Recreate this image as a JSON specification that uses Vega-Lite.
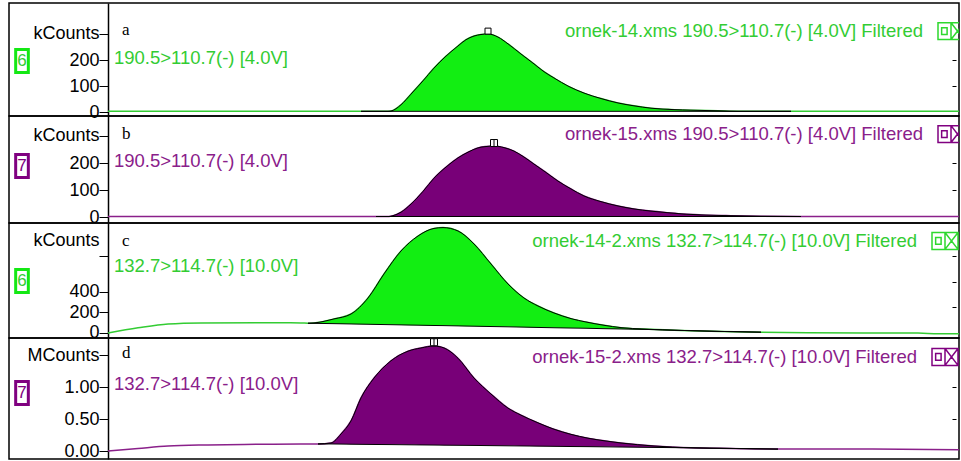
{
  "$schema": "https://vega.github.io/schema/vega-lite/v6.json",
  "autosize": {"type": "pad"},
  "padding": {"left": 8, "top": 2, "right": 0, "bottom": 0},
  "background": "white",
  "spacing": 0,
  "bounds": "flush",
  "config": {
    "view": {"stroke": "black", "strokeWidth": 1.5},
    "concat": {"spacing": 0},
    "axis": {
      "grid": false,
      "title": null,
      "domainColor": "black",
      "domainWidth": 1.5,
      "tickColor": "black",
      "tickWidth": 1,
      "labelFont": "Liberation Sans",
      "labelFontSize": 18,
      "labelColor": "black",
      "labelFlush": false,
      "labelOverlap": false,
      "labelBound": false
    }
  },
  "datasets": {
    "trace": [
      {"p": "a", "t": 0, "v": 3, "b": 3, "k": 0},
      {"p": "a", "t": 1.0, "v": 3, "b": 3, "k": 0},
      {"p": "a", "t": 2.0, "v": 3, "b": 3, "k": 0},
      {"p": "a", "t": 2.53, "v": 3, "b": 3, "k": 1},
      {"p": "a", "t": 2.80, "v": 3, "b": 3, "k": 1},
      {"p": "a", "t": 2.83, "v": 4, "b": 3, "k": 1},
      {"p": "a", "t": 2.93, "v": 28, "b": 3, "k": 1},
      {"p": "a", "t": 3.03, "v": 69, "b": 3, "k": 1},
      {"p": "a", "t": 3.15, "v": 120, "b": 3, "k": 1},
      {"p": "a", "t": 3.26, "v": 169, "b": 3, "k": 1},
      {"p": "a", "t": 3.38, "v": 215, "b": 3, "k": 1},
      {"p": "a", "t": 3.50, "v": 254, "b": 3, "k": 1},
      {"p": "a", "t": 3.58, "v": 278, "b": 3, "k": 1},
      {"p": "a", "t": 3.66, "v": 292, "b": 3, "k": 1},
      {"p": "a", "t": 3.73, "v": 298, "b": 3, "k": 1},
      {"p": "a", "t": 3.80, "v": 300, "b": 3, "k": 1},
      {"p": "a", "t": 3.90, "v": 288, "b": 3, "k": 1},
      {"p": "a", "t": 4.00, "v": 262, "b": 3, "k": 1},
      {"p": "a", "t": 4.13, "v": 223, "b": 3, "k": 1},
      {"p": "a", "t": 4.26, "v": 185, "b": 3, "k": 1},
      {"p": "a", "t": 4.36, "v": 155, "b": 3, "k": 1},
      {"p": "a", "t": 4.46, "v": 131, "b": 3, "k": 1},
      {"p": "a", "t": 4.61, "v": 98, "b": 3, "k": 1},
      {"p": "a", "t": 4.76, "v": 73, "b": 3, "k": 1},
      {"p": "a", "t": 4.93, "v": 52, "b": 3, "k": 1},
      {"p": "a", "t": 5.10, "v": 35, "b": 3, "k": 1},
      {"p": "a", "t": 5.26, "v": 24, "b": 3, "k": 1},
      {"p": "a", "t": 5.43, "v": 15, "b": 3, "k": 1},
      {"p": "a", "t": 5.63, "v": 10, "b": 3, "k": 1},
      {"p": "a", "t": 5.86, "v": 7, "b": 3, "k": 1},
      {"p": "a", "t": 6.10, "v": 5, "b": 3, "k": 1},
      {"p": "a", "t": 6.30, "v": 3, "b": 3, "k": 1},
      {"p": "a", "t": 6.83, "v": 3, "b": 3, "k": 1},
      {"p": "a", "t": 7.50, "v": 3, "b": 3, "k": 0},
      {"p": "a", "t": 8.51, "v": 3, "b": 3, "k": 0},

      {"p": "b", "t": 0, "v": 2, "b": 2, "k": 0},
      {"p": "b", "t": 1.0, "v": 2, "b": 2, "k": 0},
      {"p": "b", "t": 2.0, "v": 2, "b": 2, "k": 0},
      {"p": "b", "t": 2.68, "v": 2, "b": 2, "k": 1},
      {"p": "b", "t": 2.81, "v": 2, "b": 2, "k": 1},
      {"p": "b", "t": 2.85, "v": 5, "b": 2, "k": 1},
      {"p": "b", "t": 2.93, "v": 18, "b": 2, "k": 1},
      {"p": "b", "t": 3.03, "v": 48, "b": 2, "k": 1},
      {"p": "b", "t": 3.15, "v": 95, "b": 2, "k": 1},
      {"p": "b", "t": 3.26, "v": 144, "b": 2, "k": 1},
      {"p": "b", "t": 3.38, "v": 185, "b": 2, "k": 1},
      {"p": "b", "t": 3.50, "v": 219, "b": 2, "k": 1},
      {"p": "b", "t": 3.60, "v": 240, "b": 2, "k": 1},
      {"p": "b", "t": 3.70, "v": 256, "b": 2, "k": 1},
      {"p": "b", "t": 3.78, "v": 261, "b": 2, "k": 1},
      {"p": "b", "t": 3.86, "v": 263, "b": 2, "k": 1},
      {"p": "b", "t": 3.96, "v": 257, "b": 2, "k": 1},
      {"p": "b", "t": 4.06, "v": 244, "b": 2, "k": 1},
      {"p": "b", "t": 4.16, "v": 222, "b": 2, "k": 1},
      {"p": "b", "t": 4.26, "v": 196, "b": 2, "k": 1},
      {"p": "b", "t": 4.38, "v": 165, "b": 2, "k": 1},
      {"p": "b", "t": 4.50, "v": 133, "b": 2, "k": 1},
      {"p": "b", "t": 4.63, "v": 104, "b": 2, "k": 1},
      {"p": "b", "t": 4.76, "v": 78, "b": 2, "k": 1},
      {"p": "b", "t": 4.93, "v": 57, "b": 2, "k": 1},
      {"p": "b", "t": 5.10, "v": 41, "b": 2, "k": 1},
      {"p": "b", "t": 5.26, "v": 30, "b": 2, "k": 1},
      {"p": "b", "t": 5.43, "v": 22, "b": 2, "k": 1},
      {"p": "b", "t": 5.60, "v": 16, "b": 2, "k": 1},
      {"p": "b", "t": 5.76, "v": 11, "b": 2, "k": 1},
      {"p": "b", "t": 5.93, "v": 8, "b": 2, "k": 1},
      {"p": "b", "t": 6.23, "v": 5, "b": 2, "k": 1},
      {"p": "b", "t": 6.53, "v": 3, "b": 2, "k": 1},
      {"p": "b", "t": 6.93, "v": 2, "b": 2, "k": 1},
      {"p": "b", "t": 7.50, "v": 2, "b": 2, "k": 0},
      {"p": "b", "t": 8.51, "v": 2, "b": 2, "k": 0},

      {"p": "c", "t": 0, "v": 0, "b": 0, "k": 0},
      {"p": "c", "t": 0.30, "v": 50, "b": 50, "k": 0},
      {"p": "c", "t": 0.60, "v": 88, "b": 88, "k": 0},
      {"p": "c", "t": 0.93, "v": 98, "b": 98, "k": 0},
      {"p": "c", "t": 1.50, "v": 100, "b": 100, "k": 0},
      {"p": "c", "t": 1.93, "v": 98, "b": 98, "k": 0},
      {"p": "c", "t": 2.00, "v": 95, "b": 95, "k": 1},
      {"p": "c", "t": 2.06, "v": 98, "b": 94, "k": 1},
      {"p": "c", "t": 2.26, "v": 137, "b": 91, "k": 1},
      {"p": "c", "t": 2.43, "v": 185, "b": 88, "k": 1},
      {"p": "c", "t": 2.60, "v": 341, "b": 85, "k": 1},
      {"p": "c", "t": 2.76, "v": 576, "b": 82, "k": 1},
      {"p": "c", "t": 2.93, "v": 800, "b": 79, "k": 1},
      {"p": "c", "t": 3.10, "v": 946, "b": 76, "k": 1},
      {"p": "c", "t": 3.26, "v": 1020, "b": 73, "k": 1},
      {"p": "c", "t": 3.35, "v": 1028, "b": 72, "k": 1},
      {"p": "c", "t": 3.50, "v": 995, "b": 69, "k": 1},
      {"p": "c", "t": 3.66, "v": 868, "b": 66, "k": 1},
      {"p": "c", "t": 3.83, "v": 673, "b": 63, "k": 1},
      {"p": "c", "t": 4.00, "v": 478, "b": 60, "k": 1},
      {"p": "c", "t": 4.16, "v": 341, "b": 57, "k": 1},
      {"p": "c", "t": 4.30, "v": 263, "b": 54, "k": 1},
      {"p": "c", "t": 4.46, "v": 195, "b": 51, "k": 1},
      {"p": "c", "t": 4.63, "v": 140, "b": 48, "k": 1},
      {"p": "c", "t": 4.78, "v": 107, "b": 46, "k": 1},
      {"p": "c", "t": 4.96, "v": 75, "b": 42, "k": 1},
      {"p": "c", "t": 5.13, "v": 52, "b": 39, "k": 1},
      {"p": "c", "t": 5.36, "v": 38, "b": 35, "k": 1},
      {"p": "c", "t": 5.73, "v": 25, "b": 25, "k": 1},
      {"p": "c", "t": 6.13, "v": 15, "b": 15, "k": 1},
      {"p": "c", "t": 6.53, "v": 8, "b": 8, "k": 1},
      {"p": "c", "t": 7.00, "v": 2, "b": 2, "k": 0},
      {"p": "c", "t": 8.10, "v": 0, "b": 0, "k": 0},
      {"p": "c", "t": 8.30, "v": -8, "b": -8, "k": 0},
      {"p": "c", "t": 8.51, "v": -8, "b": -8, "k": 0},

      {"p": "d", "t": 0, "v": 0, "b": 0, "k": 0},
      {"p": "d", "t": 0.30, "v": 0.04, "b": 0.04, "k": 0},
      {"p": "d", "t": 0.60, "v": 0.078, "b": 0.078, "k": 0},
      {"p": "d", "t": 1.00, "v": 0.095, "b": 0.095, "k": 0},
      {"p": "d", "t": 1.50, "v": 0.105, "b": 0.105, "k": 0},
      {"p": "d", "t": 1.93, "v": 0.109, "b": 0.109, "k": 0},
      {"p": "d", "t": 2.10, "v": 0.11, "b": 0.11, "k": 1},
      {"p": "d", "t": 2.23, "v": 0.125, "b": 0.11, "k": 1},
      {"p": "d", "t": 2.33, "v": 0.266, "b": 0.108, "k": 1},
      {"p": "d", "t": 2.43, "v": 0.47, "b": 0.106, "k": 1},
      {"p": "d", "t": 2.53, "v": 0.83, "b": 0.104, "k": 1},
      {"p": "d", "t": 2.66, "v": 1.14, "b": 0.102, "k": 1},
      {"p": "d", "t": 2.83, "v": 1.41, "b": 0.10, "k": 1},
      {"p": "d", "t": 3.00, "v": 1.56, "b": 0.097, "k": 1},
      {"p": "d", "t": 3.13, "v": 1.61, "b": 0.095, "k": 1},
      {"p": "d", "t": 3.26, "v": 1.64, "b": 0.093, "k": 1},
      {"p": "d", "t": 3.36, "v": 1.61, "b": 0.091, "k": 1},
      {"p": "d", "t": 3.50, "v": 1.45, "b": 0.089, "k": 1},
      {"p": "d", "t": 3.66, "v": 1.14, "b": 0.087, "k": 1},
      {"p": "d", "t": 3.83, "v": 0.89, "b": 0.084, "k": 1},
      {"p": "d", "t": 4.00, "v": 0.67, "b": 0.081, "k": 1},
      {"p": "d", "t": 4.13, "v": 0.56, "b": 0.079, "k": 1},
      {"p": "d", "t": 4.30, "v": 0.44, "b": 0.076, "k": 1},
      {"p": "d", "t": 4.46, "v": 0.34, "b": 0.073, "k": 1},
      {"p": "d", "t": 4.63, "v": 0.26, "b": 0.07, "k": 1},
      {"p": "d", "t": 4.80, "v": 0.20, "b": 0.068, "k": 1},
      {"p": "d", "t": 4.96, "v": 0.16, "b": 0.065, "k": 1},
      {"p": "d", "t": 5.13, "v": 0.125, "b": 0.062, "k": 1},
      {"p": "d", "t": 5.46, "v": 0.078, "b": 0.056, "k": 1},
      {"p": "d", "t": 5.83, "v": 0.05, "b": 0.05, "k": 1},
      {"p": "d", "t": 6.23, "v": 0.04, "b": 0.04, "k": 1},
      {"p": "d", "t": 6.70, "v": 0.03, "b": 0.03, "k": 1},
      {"p": "d", "t": 7.50, "v": 0.03, "b": 0.03, "k": 0},
      {"p": "d", "t": 8.51, "v": 0.02, "b": 0.02, "k": 0}
    ],
    "peaks": [
      {"p": "a", "t": 3.80, "v": 311},
      {"p": "b", "t": 3.86, "v": 274},
      {"p": "d", "t": 3.26, "v": 1.70}
    ],
    "notes": [
      {"p": "a", "role": "letter", "t": 0.14, "v": 315, "txt": "a"},
      {"p": "a", "role": "chan", "t": 0.06, "v": 208, "txt": "190.5>110.7(-) [4.0V]"},
      {"p": "a", "role": "title", "t": 8.15, "v": 311, "txt": "ornek-14.xms 190.5>110.7(-) [4.0V] Filtered"},
      {"p": "a", "role": "icon", "t": 8.43, "v": 311, "txt": ""},
      {"p": "a", "role": "num", "t": -0.86, "v": 196, "txt": "6"},
      {"p": "b", "role": "letter", "t": 0.14, "v": 307, "txt": "b"},
      {"p": "b", "role": "chan", "t": 0.06, "v": 207, "txt": "190.5>110.7(-) [4.0V]"},
      {"p": "b", "role": "title", "t": 8.15, "v": 307, "txt": "ornek-15.xms 190.5>110.7(-) [4.0V] Filtered"},
      {"p": "b", "role": "icon", "t": 8.43, "v": 307, "txt": ""},
      {"p": "b", "role": "num", "t": -0.86, "v": 189, "txt": "7"},
      {"p": "c", "role": "letter", "t": 0.14, "v": 898, "txt": "c"},
      {"p": "c", "role": "chan", "t": 0.06, "v": 654, "txt": "132.7>114.7(-) [10.0V]"},
      {"p": "c", "role": "title", "t": 8.09, "v": 898, "txt": "ornek-14-2.xms 132.7>114.7(-) [10.0V] Filtered"},
      {"p": "c", "role": "icon", "t": 8.37, "v": 898, "txt": ""},
      {"p": "c", "role": "num", "t": -0.86, "v": 507, "txt": "6"},
      {"p": "d", "role": "letter", "t": 0.14, "v": 1.53, "txt": "d"},
      {"p": "d", "role": "chan", "t": 0.06, "v": 1.05, "txt": "132.7>114.7(-) [10.0V]"},
      {"p": "d", "role": "title", "t": 8.09, "v": 1.47, "txt": "ornek-15-2.xms 132.7>114.7(-) [10.0V] Filtered"},
      {"p": "d", "role": "icon", "t": 8.37, "v": 1.47, "txt": ""},
      {"p": "d", "role": "num", "t": -0.86, "v": 0.906, "txt": "7"}
    ]
  },
  "vconcat": [
    {
      "width": 950, "height": 113,
      "resolve": {"axis": {"y": "independent"}},
      "layer": [
        {"data": {"name": "trace"}, "transform": [{"filter": "datum.p === 'a'"}],
         "mark": {"type": "line", "color": "#33cc33", "strokeWidth": 1.5, "interpolate": "monotone"},
         "encoding": {
           "x": {"field": "t", "type": "quantitative", "scale": {"domain": [-0.99, 8.51], "nice": false, "zero": false}, "axis": null},
           "y": {"field": "v", "type": "quantitative", "scale": {"domain": [-15, 419], "nice": false, "zero": false},
                 "axis": {"orient": "left", "offset": -99, "values": [0, 100, 200, 300], "labelExpr": "datum.value === 300 ? 'kCounts' : datum.label", "tickSize": 9, "labelPadding": 0}}
         }},
        {"data": {"name": "trace"}, "transform": [{"filter": "datum.p === 'a' && datum.k === 1"}],
         "mark": {"type": "area", "fill": "#12ee12", "stroke": "black", "strokeWidth": 1, "interpolate": "monotone"},
         "encoding": {
           "x": {"field": "t", "type": "quantitative", "axis": null},
           "y": {"field": "v", "type": "quantitative",
                 "axis": {"orient": "right", "offset": -7, "values": [100, 200], "labels": false, "domain": false, "tickSize": 4}},
           "y2": {"field": "b"}
         }},
        {"data": {"name": "peaks"}, "transform": [{"filter": "datum.p === 'a'"}],
         "mark": {"type": "point", "shape": "square", "size": 36, "filled": true, "fill": "white", "stroke": "black", "strokeWidth": 1, "opacity": 1},
         "encoding": {"x": {"field": "t", "type": "quantitative", "axis": null}, "y": {"field": "v", "type": "quantitative", "axis": null}}},
        {"data": {"name": "notes"}, "transform": [{"filter": "datum.p === 'a' && datum.role === 'letter'"}],
         "mark": {"type": "text", "font": "Liberation Serif", "fontSize": 17, "color": "black", "align": "left", "baseline": "middle"},
         "encoding": {"x": {"field": "t", "type": "quantitative", "axis": null}, "y": {"field": "v", "type": "quantitative", "axis": null}, "text": {"field": "txt"}}},
        {"data": {"name": "notes"}, "transform": [{"filter": "datum.p === 'a' && datum.role === 'chan'"}],
         "mark": {"type": "text", "font": "Liberation Sans", "fontSize": 18.5, "color": "#33cc33", "align": "left", "baseline": "middle"},
         "encoding": {"x": {"field": "t", "type": "quantitative", "axis": null}, "y": {"field": "v", "type": "quantitative", "axis": null}, "text": {"field": "txt"}}},
        {"data": {"name": "notes"}, "transform": [{"filter": "datum.p === 'a' && datum.role === 'title'"}],
         "mark": {"type": "text", "font": "Liberation Sans", "fontSize": 18.5, "color": "#33cc33", "align": "right", "baseline": "middle"},
         "encoding": {"x": {"field": "t", "type": "quantitative", "axis": null}, "y": {"field": "v", "type": "quantitative", "axis": null}, "text": {"field": "txt"}}},
        {"data": {"name": "notes"}, "transform": [{"filter": "datum.p === 'a' && datum.role === 'icon'"}],
         "mark": {"type": "point", "shape": "M-1,-0.65H0V0.65H-1ZM-0.72,-0.26H-0.3V0.26H-0.72ZM0,-0.65H1V0.65H0ZM0,-0.65L1,0.65M1,-0.65L0,0.65", "size": 676, "filled": false, "stroke": "#2ed82e", "strokeWidth": 1.5, "opacity": 1, "clip": true},
         "encoding": {"x": {"field": "t", "type": "quantitative", "axis": null}, "y": {"field": "v", "type": "quantitative", "axis": null}}},
        {"data": {"name": "notes"}, "transform": [{"filter": "datum.p === 'a' && datum.role === 'num'"}],
         "mark": {"type": "point", "shape": "M-0.55,-1L0.55,-1L0.55,1L-0.55,1Z", "size": 529, "filled": false, "stroke": "#14e814", "strokeWidth": 3, "opacity": 1},
         "encoding": {"x": {"field": "t", "type": "quantitative", "axis": null}, "y": {"field": "v", "type": "quantitative", "axis": null}}},
        {"data": {"name": "notes"}, "transform": [{"filter": "datum.p === 'a' && datum.role === 'num'"}],
         "mark": {"type": "text", "font": "Liberation Sans", "fontSize": 17, "color": "#33cc33", "align": "center", "baseline": "middle"},
         "encoding": {"x": {"field": "t", "type": "quantitative", "axis": null}, "y": {"field": "v", "type": "quantitative", "axis": null}, "text": {"field": "txt"}}}
      ]
    },
    {
      "width": 950, "height": 107,
      "resolve": {"axis": {"y": "independent"}},
      "layer": [
        {"data": {"name": "trace"}, "transform": [{"filter": "datum.p === 'b'"}],
         "mark": {"type": "line", "color": "#8a208a", "strokeWidth": 1.5, "interpolate": "monotone"},
         "encoding": {
           "x": {"field": "t", "type": "quantitative", "scale": {"domain": [-0.99, 8.51], "nice": false, "zero": false}, "axis": null},
           "y": {"field": "v", "type": "quantitative", "scale": {"domain": [-22, 374], "nice": false, "zero": false},
                 "axis": {"orient": "left", "offset": -99, "values": [0, 100, 200, 300], "labelExpr": "datum.value === 300 ? 'kCounts' : datum.label", "tickSize": 9, "labelPadding": 0}}
         }},
        {"data": {"name": "trace"}, "transform": [{"filter": "datum.p === 'b' && datum.k === 1"}],
         "mark": {"type": "area", "fill": "#780078", "stroke": "black", "strokeWidth": 1, "interpolate": "monotone"},
         "encoding": {
           "x": {"field": "t", "type": "quantitative", "axis": null},
           "y": {"field": "v", "type": "quantitative",
                 "axis": {"orient": "right", "offset": -7, "values": [100, 200], "labels": false, "domain": false, "tickSize": 4}},
           "y2": {"field": "b"}
         }},
        {"data": {"name": "peaks"}, "transform": [{"filter": "datum.p === 'b'"}],
         "mark": {"type": "point", "shape": "M-1,-1L1,-1L1,1L-1,1ZM0,-1L0,1", "size": 49, "filled": true, "fill": "white", "stroke": "black", "strokeWidth": 1, "opacity": 1},
         "encoding": {"x": {"field": "t", "type": "quantitative", "axis": null}, "y": {"field": "v", "type": "quantitative", "axis": null}}},
        {"data": {"name": "notes"}, "transform": [{"filter": "datum.p === 'b' && datum.role === 'letter'"}],
         "mark": {"type": "text", "font": "Liberation Serif", "fontSize": 17, "color": "black", "align": "left", "baseline": "middle"},
         "encoding": {"x": {"field": "t", "type": "quantitative", "axis": null}, "y": {"field": "v", "type": "quantitative", "axis": null}, "text": {"field": "txt"}}},
        {"data": {"name": "notes"}, "transform": [{"filter": "datum.p === 'b' && datum.role === 'chan'"}],
         "mark": {"type": "text", "font": "Liberation Sans", "fontSize": 18.5, "color": "#8a208a", "align": "left", "baseline": "middle"},
         "encoding": {"x": {"field": "t", "type": "quantitative", "axis": null}, "y": {"field": "v", "type": "quantitative", "axis": null}, "text": {"field": "txt"}}},
        {"data": {"name": "notes"}, "transform": [{"filter": "datum.p === 'b' && datum.role === 'title'"}],
         "mark": {"type": "text", "font": "Liberation Sans", "fontSize": 18.5, "color": "#8a208a", "align": "right", "baseline": "middle"},
         "encoding": {"x": {"field": "t", "type": "quantitative", "axis": null}, "y": {"field": "v", "type": "quantitative", "axis": null}, "text": {"field": "txt"}}},
        {"data": {"name": "notes"}, "transform": [{"filter": "datum.p === 'b' && datum.role === 'icon'"}],
         "mark": {"type": "point", "shape": "M-1,-0.65H0V0.65H-1ZM-0.72,-0.26H-0.3V0.26H-0.72ZM0,-0.65H1V0.65H0ZM0,-0.65L1,0.65M1,-0.65L0,0.65", "size": 676, "filled": false, "stroke": "#800080", "strokeWidth": 1.5, "opacity": 1, "clip": true},
         "encoding": {"x": {"field": "t", "type": "quantitative", "axis": null}, "y": {"field": "v", "type": "quantitative", "axis": null}}},
        {"data": {"name": "notes"}, "transform": [{"filter": "datum.p === 'b' && datum.role === 'num'"}],
         "mark": {"type": "point", "shape": "M-0.55,-1L0.55,-1L0.55,1L-0.55,1Z", "size": 529, "filled": false, "stroke": "#800080", "strokeWidth": 3, "opacity": 1},
         "encoding": {"x": {"field": "t", "type": "quantitative", "axis": null}, "y": {"field": "v", "type": "quantitative", "axis": null}}},
        {"data": {"name": "notes"}, "transform": [{"filter": "datum.p === 'b' && datum.role === 'num'"}],
         "mark": {"type": "text", "font": "Liberation Sans", "fontSize": 17, "color": "#800080", "align": "center", "baseline": "middle"},
         "encoding": {"x": {"field": "t", "type": "quantitative", "axis": null}, "y": {"field": "v", "type": "quantitative", "axis": null}, "text": {"field": "txt"}}}
      ]
    },
    {
      "width": 950, "height": 115,
      "resolve": {"axis": {"y": "independent"}},
      "layer": [
        {"data": {"name": "trace"}, "transform": [{"filter": "datum.p === 'c'"}],
         "mark": {"type": "line", "color": "#33cc33", "strokeWidth": 1.5, "interpolate": "monotone"},
         "encoding": {
           "x": {"field": "t", "type": "quantitative", "scale": {"domain": [-0.99, 8.51], "nice": false, "zero": false}, "axis": null},
           "y": {"field": "v", "type": "quantitative", "scale": {"domain": [-49, 1073], "nice": false, "zero": false},
                 "axis": {"orient": "left", "offset": -99, "values": [0, 200, 400, 750, 900], "labelExpr": "datum.value === 900 ? 'kCounts' : (datum.value === 750 ? '' : datum.label)", "tickSize": 9, "labelPadding": 0,
                          "tickOpacity": {"condition": {"test": "datum.value === 900", "value": 0}, "value": 1}}}
         }},
        {"data": {"name": "trace"}, "transform": [{"filter": "datum.p === 'c' && datum.k === 1"}],
         "mark": {"type": "area", "fill": "#12ee12", "stroke": "black", "strokeWidth": 1, "interpolate": "monotone"},
         "encoding": {
           "x": {"field": "t", "type": "quantitative", "axis": null},
           "y": {"field": "v", "type": "quantitative",
                 "axis": {"orient": "right", "offset": -7, "values": [250, 500, 750], "labels": false, "domain": false, "tickSize": 4}},
           "y2": {"field": "b"}
         }},
        {"data": {"name": "notes"}, "transform": [{"filter": "datum.p === 'c' && datum.role === 'letter'"}],
         "mark": {"type": "text", "font": "Liberation Serif", "fontSize": 17, "color": "black", "align": "left", "baseline": "middle"},
         "encoding": {"x": {"field": "t", "type": "quantitative", "axis": null}, "y": {"field": "v", "type": "quantitative", "axis": null}, "text": {"field": "txt"}}},
        {"data": {"name": "notes"}, "transform": [{"filter": "datum.p === 'c' && datum.role === 'chan'"}],
         "mark": {"type": "text", "font": "Liberation Sans", "fontSize": 18.5, "color": "#33cc33", "align": "left", "baseline": "middle"},
         "encoding": {"x": {"field": "t", "type": "quantitative", "axis": null}, "y": {"field": "v", "type": "quantitative", "axis": null}, "text": {"field": "txt"}}},
        {"data": {"name": "notes"}, "transform": [{"filter": "datum.p === 'c' && datum.role === 'title'"}],
         "mark": {"type": "text", "font": "Liberation Sans", "fontSize": 18.5, "color": "#33cc33", "align": "right", "baseline": "middle"},
         "encoding": {"x": {"field": "t", "type": "quantitative", "axis": null}, "y": {"field": "v", "type": "quantitative", "axis": null}, "text": {"field": "txt"}}},
        {"data": {"name": "notes"}, "transform": [{"filter": "datum.p === 'c' && datum.role === 'icon'"}],
         "mark": {"type": "point", "shape": "M-1,-0.65H0V0.65H-1ZM-0.72,-0.26H-0.3V0.26H-0.72ZM0,-0.65H1V0.65H0ZM0,-0.65L1,0.65M1,-0.65L0,0.65", "size": 676, "filled": false, "stroke": "#2ed82e", "strokeWidth": 1.5, "opacity": 1, "clip": true},
         "encoding": {"x": {"field": "t", "type": "quantitative", "axis": null}, "y": {"field": "v", "type": "quantitative", "axis": null}}},
        {"data": {"name": "notes"}, "transform": [{"filter": "datum.p === 'c' && datum.role === 'num'"}],
         "mark": {"type": "point", "shape": "M-0.55,-1L0.55,-1L0.55,1L-0.55,1Z", "size": 529, "filled": false, "stroke": "#14e814", "strokeWidth": 3, "opacity": 1},
         "encoding": {"x": {"field": "t", "type": "quantitative", "axis": null}, "y": {"field": "v", "type": "quantitative", "axis": null}}},
        {"data": {"name": "notes"}, "transform": [{"filter": "datum.p === 'c' && datum.role === 'num'"}],
         "mark": {"type": "text", "font": "Liberation Sans", "fontSize": 17, "color": "#33cc33", "align": "center", "baseline": "middle"},
         "encoding": {"x": {"field": "t", "type": "quantitative", "axis": null}, "y": {"field": "v", "type": "quantitative", "axis": null}, "text": {"field": "txt"}}}
      ]
    },
    {
      "width": 950, "height": 121,
      "resolve": {"axis": {"y": "independent"}},
      "layer": [
        {"data": {"name": "trace"}, "transform": [{"filter": "datum.p === 'd'"}],
         "mark": {"type": "line", "color": "#8a208a", "strokeWidth": 1.5, "interpolate": "monotone"},
         "encoding": {
           "x": {"field": "t", "type": "quantitative", "scale": {"domain": [-0.99, 8.51], "nice": false, "zero": false}, "axis": null},
           "y": {"field": "v", "type": "quantitative", "scale": {"domain": [-0.125, 1.766], "nice": false, "zero": false},
                 "axis": {"orient": "left", "offset": -99, "values": [0, 0.5, 1, 1.5], "format": ".2f", "labelExpr": "datum.value === 1.5 ? 'MCounts' : datum.label", "tickSize": 9, "labelPadding": 0}}
         }},
        {"data": {"name": "trace"}, "transform": [{"filter": "datum.p === 'd' && datum.k === 1"}],
         "mark": {"type": "area", "fill": "#780078", "stroke": "black", "strokeWidth": 1, "interpolate": "monotone"},
         "encoding": {
           "x": {"field": "t", "type": "quantitative", "axis": null},
           "y": {"field": "v", "type": "quantitative",
                 "axis": {"orient": "right", "offset": -7, "values": [0.5, 1.0], "labels": false, "domain": false, "tickSize": 4}},
           "y2": {"field": "b"}
         }},
        {"data": {"name": "peaks"}, "transform": [{"filter": "datum.p === 'd'"}],
         "mark": {"type": "point", "shape": "M-1,-1L1,-1L1,1L-1,1ZM0,-1L0,1", "size": 49, "filled": true, "fill": "white", "stroke": "black", "strokeWidth": 1, "opacity": 1},
         "encoding": {"x": {"field": "t", "type": "quantitative", "axis": null}, "y": {"field": "v", "type": "quantitative", "axis": null}}},
        {"data": {"name": "notes"}, "transform": [{"filter": "datum.p === 'd' && datum.role === 'letter'"}],
         "mark": {"type": "text", "font": "Liberation Serif", "fontSize": 17, "color": "black", "align": "left", "baseline": "middle"},
         "encoding": {"x": {"field": "t", "type": "quantitative", "axis": null}, "y": {"field": "v", "type": "quantitative", "axis": null}, "text": {"field": "txt"}}},
        {"data": {"name": "notes"}, "transform": [{"filter": "datum.p === 'd' && datum.role === 'chan'"}],
         "mark": {"type": "text", "font": "Liberation Sans", "fontSize": 18.5, "color": "#8a208a", "align": "left", "baseline": "middle"},
         "encoding": {"x": {"field": "t", "type": "quantitative", "axis": null}, "y": {"field": "v", "type": "quantitative", "axis": null}, "text": {"field": "txt"}}},
        {"data": {"name": "notes"}, "transform": [{"filter": "datum.p === 'd' && datum.role === 'title'"}],
         "mark": {"type": "text", "font": "Liberation Sans", "fontSize": 18.5, "color": "#8a208a", "align": "right", "baseline": "middle"},
         "encoding": {"x": {"field": "t", "type": "quantitative", "axis": null}, "y": {"field": "v", "type": "quantitative", "axis": null}, "text": {"field": "txt"}}},
        {"data": {"name": "notes"}, "transform": [{"filter": "datum.p === 'd' && datum.role === 'icon'"}],
         "mark": {"type": "point", "shape": "M-1,-0.65H0V0.65H-1ZM-0.72,-0.26H-0.3V0.26H-0.72ZM0,-0.65H1V0.65H0ZM0,-0.65L1,0.65M1,-0.65L0,0.65", "size": 676, "filled": false, "stroke": "#800080", "strokeWidth": 1.5, "opacity": 1, "clip": true},
         "encoding": {"x": {"field": "t", "type": "quantitative", "axis": null}, "y": {"field": "v", "type": "quantitative", "axis": null}}},
        {"data": {"name": "notes"}, "transform": [{"filter": "datum.p === 'd' && datum.role === 'num'"}],
         "mark": {"type": "point", "shape": "M-0.55,-1L0.55,-1L0.55,1L-0.55,1Z", "size": 529, "filled": false, "stroke": "#800080", "strokeWidth": 3, "opacity": 1},
         "encoding": {"x": {"field": "t", "type": "quantitative", "axis": null}, "y": {"field": "v", "type": "quantitative", "axis": null}}},
        {"data": {"name": "notes"}, "transform": [{"filter": "datum.p === 'd' && datum.role === 'num'"}],
         "mark": {"type": "text", "font": "Liberation Sans", "fontSize": 17, "color": "#800080", "align": "center", "baseline": "middle"},
         "encoding": {"x": {"field": "t", "type": "quantitative", "axis": null}, "y": {"field": "v", "type": "quantitative", "axis": null}, "text": {"field": "txt"}}}
      ]
    }
  ]
}
